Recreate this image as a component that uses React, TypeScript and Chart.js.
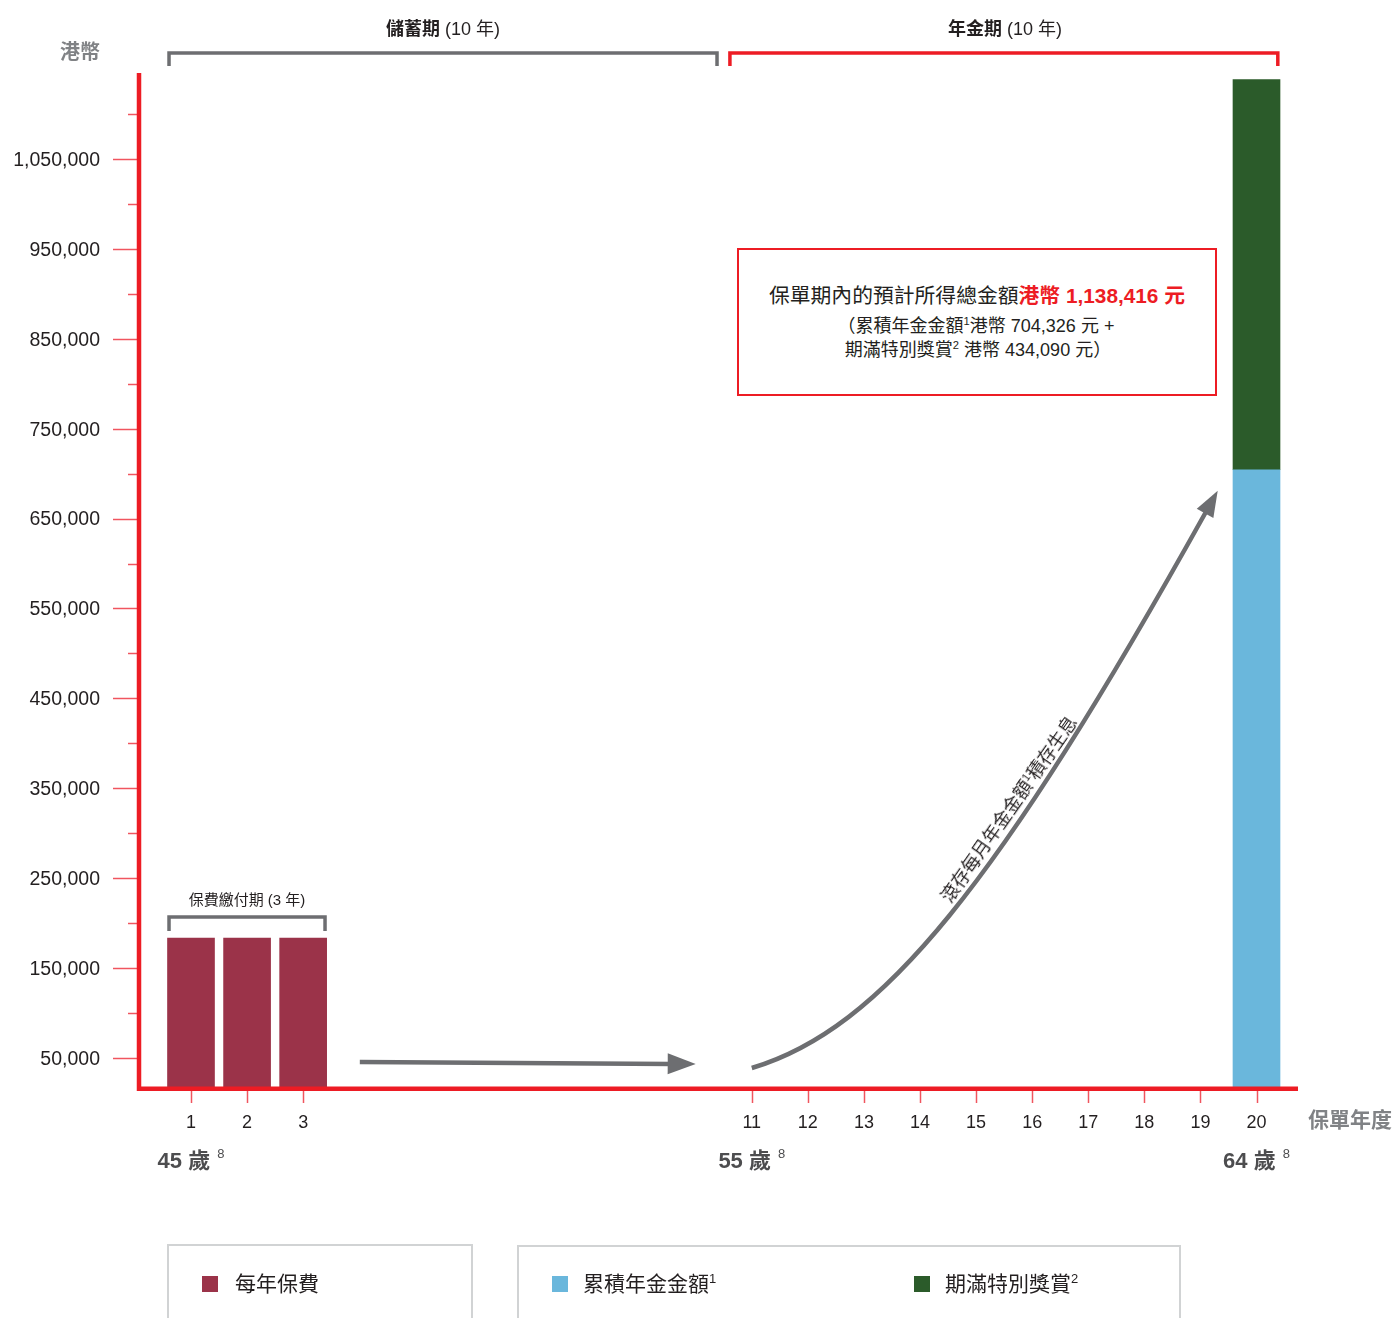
import React, { useEffect, useRef } from 'react';
import { Chart, registerables } from 'chart.js';

Chart.register(...registerables);

// ---------- data ----------
const premiumYears = [1, 2, 3];
const annualPremium = [183500, 183500, 183500];
const maturityYears = [20];
const accumulatedAnnuity = [704326];
const maturityBonus = [434090];
const shownYearTicks = [1, 2, 3, 11, 12, 13, 14, 15, 16, 17, 18, 19, 20];
const yLabelTicks = [50000, 150000, 250000, 350000, 450000, 550000, 650000, 750000, 850000, 950000, 1050000];
const yMinorTicks = [100000, 200000, 300000, 400000, 500000, 600000, 700000, 800000, 900000, 1000000, 1100000];
const ageYears = [1, 11, 20];
const ageTexts = ['45 歲', '55 歲', '64 歲'];
const ageSup = '8';

const FONT = "'Liberation Sans', 'Noto Sans CJK TC', sans-serif";
const RED = '#ed1c24';
const TICK_RED = '#f0555f';
const GRAY = '#6d6e71';
const TITLE_GRAY = '#808285';
const TEXT = '#231f20';

const decorPlugin = {
  id: 'decor',
  afterDraw(chart: any) {
    const { ctx, chartArea: ca, scales } = chart;
    const x = scales.x;
    const y = scales.y;
    const X = (v: number) => x.getPixelForValue(v);
    const line = (x1: number, y1: number, x2: number, y2: number) => {
      ctx.beginPath();
      ctx.moveTo(x1, y1);
      ctx.lineTo(x2, y2);
      ctx.stroke();
    };
    ctx.save();

    // y tick marks
    ctx.strokeStyle = TICK_RED;
    ctx.lineWidth = 1.5;
    yLabelTicks.forEach((v) => {
      const py = Math.round(y.getPixelForValue(v)) + 0.5;
      line(ca.left - 26, py, ca.left, py);
    });
    yMinorTicks.forEach((v) => {
      const py = Math.round(y.getPixelForValue(v)) + 0.5;
      line(ca.left - 11, py, ca.left, py);
    });
    // x tick marks
    shownYearTicks.forEach((v) => {
      const px = Math.round(X(v)) + 0.5;
      line(px, ca.bottom + 3, px, ca.bottom + 16);
    });

    // axes
    ctx.strokeStyle = RED;
    ctx.lineWidth = 4.5;
    ctx.lineCap = 'butt';
    line(ca.left, ca.top, ca.left, ca.bottom + 4);
    line(ca.left - 2, ca.bottom + 1.8, ca.right, ca.bottom + 1.8);

    // brackets
    const bracket = (v1: number, v2: number, top: number, leg: number, color: string) => {
      ctx.strokeStyle = color;
      ctx.lineWidth = 3.5;
      ctx.lineJoin = 'miter';
      ctx.beginPath();
      ctx.moveTo(X(v1), top + leg);
      ctx.lineTo(X(v1), top);
      ctx.lineTo(X(v2), top);
      ctx.lineTo(X(v2), top + leg);
      ctx.stroke();
    };
    bracket(0.608, 10.38, ca.top - 20, 13, GRAY);
    bracket(10.61, 20.38, ca.top - 20, 13, RED);
    const premTop = y.getPixelForValue(annualPremium[0]);
    bracket(0.608, 3.39, premTop - 21, 14, GRAY);

    // straight arrow
    ctx.strokeStyle = GRAY;
    ctx.fillStyle = GRAY;
    ctx.lineWidth = 4.5;
    const head = (tx: number, ty: number, dx: number, dy: number, len: number, half: number) => {
      const n = Math.hypot(dx, dy);
      const ux = dx / n, uy = dy / n;
      const bx = tx - ux * len, by = ty - uy * len;
      ctx.beginPath();
      ctx.moveTo(tx, ty);
      ctx.lineTo(bx - uy * half, by + ux * half);
      ctx.lineTo(bx + uy * half, by - ux * half);
      ctx.closePath();
      ctx.fill();
    };
    const ax1 = X(4.01), ay1 = ca.bottom - 25;
    const ax2 = X(10.0), ay2 = ca.bottom - 23;
    line(ax1, ay1, ax2 - 24, ay2 - 0.1);
    head(ax2, ay2, ax2 - ax1, ay2 - ay1, 28, 10.5);

    // curved arrow
    const p0 = [X(11.0), ca.bottom - 19];
    const p1 = [882, 1029];
    const p2 = [998, 885];
    const p3 = [1207, 510];
    ctx.lineWidth = 4.5;
    ctx.beginPath();
    ctx.moveTo(p0[0], p0[1]);
    ctx.bezierCurveTo(p1[0], p1[1], p2[0], p2[1], p3[0], p3[1]);
    ctx.stroke();
    const dx = p3[0] - p2[0], dy = p3[1] - p2[1];
    const n = Math.hypot(dx, dy);
    head(p3[0] + (dx / n) * 22, p3[1] + (dy / n) * 22, dx, dy, 26, 9.5);

    // age labels
    ctx.fillStyle = '#4d4d4f';
    ctx.textBaseline = 'middle';
    ageYears.forEach((v, i) => {
      ctx.font = `bold 22px ${FONT}`;
      const w1 = ctx.measureText(ageTexts[i]).width;
      ctx.font = `13px ${FONT}`;
      const w2 = ctx.measureText(ageSup).width;
      const total = w1 + 7 + w2;
      const sx = X(v) - total / 2;
      ctx.font = `bold 22px ${FONT}`;
      ctx.textAlign = 'left';
      ctx.fillText(ageTexts[i], sx, ca.bottom + 75);
      ctx.font = `13px ${FONT}`;
      ctx.fillText(ageSup, sx + w1 + 7, ca.bottom + 67);
    });

    ctx.restore();
  },
};

const sup = (t: string) => (
  <sup style={{ fontSize: '0.62em', verticalAlign: 'super', lineHeight: 0 }}>{t}</sup>
);

export default function App() {
  const ref = useRef<HTMLCanvasElement>(null);

  useEffect(() => {
    const canvas = ref.current as HTMLCanvasElement;
    const chart = new Chart(canvas, {
      type: 'bar',
      data: {
        datasets: [
          {
            label: '每年保費',
            data: premiumYears.map((yr, i) => ({ x: yr, y: annualPremium[i] })),
            backgroundColor: '#9b3349',
            barThickness: 47,
            stack: 's',
          },
          {
            label: '累積年金金額',
            data: maturityYears.map((yr, i) => ({ x: yr, y: accumulatedAnnuity[i] })),
            backgroundColor: '#6ab7dc',
            barThickness: 47,
            stack: 's',
          },
          {
            label: '期滿特別獎賞',
            data: maturityYears.map((yr, i) => ({ x: yr, y: maturityBonus[i] })),
            backgroundColor: '#2b5b2a',
            barThickness: 47,
            stack: 's',
          },
        ],
      } as any,
      options: {
        animation: false,
        responsive: false,
        layout: { padding: { top: 73, right: 97, left: 0, bottom: 0 } },
        plugins: { legend: { display: false }, tooltip: { enabled: false } },
        scales: {
          x: {
            type: 'linear',
            min: 0.0727,
            max: 20.74,
            offset: false,
            stacked: true,
            grid: { display: false, drawTicks: false, offset: false },
            border: { display: false },
            afterBuildTicks: (s: any) => {
              s.ticks = shownYearTicks.map((v) => ({ value: v }));
            },
            ticks: {
              autoSkip: false,
              maxRotation: 0,
              padding: 25,
              color: TEXT,
              font: { family: FONT, size: 18 },
              callback: (v: any) => String(v),
            },
            afterFit: (s: any) => {
              s.height = 231;
            },
          },
          y: {
            type: 'linear',
            min: 17750,
            max: 1145650,
            stacked: true,
            grid: { display: false, drawTicks: false },
            border: { display: false },
            afterBuildTicks: (s: any) => {
              s.ticks = yLabelTicks.map((v) => ({ value: v }));
            },
            ticks: {
              autoSkip: false,
              padding: 39,
              labelOffset: 1.5,
              color: TEXT,
              font: { family: FONT, size: 19.5 },
              callback: (v: any) => Number(v).toLocaleString('en-US'),
            },
            afterFit: (s: any) => {
              s.width = 139;
            },
          },
        },
      } as any,
      plugins: [decorPlugin],
    });
    return () => chart.destroy();
  }, []);

  const center: React.CSSProperties = {
    position: 'absolute',
    transform: 'translate(-50%, -50%)',
    whiteSpace: 'nowrap',
    lineHeight: 1.2,
  };
  const legendText: React.CSSProperties = {
    position: 'absolute',
    top: 1284,
    transform: 'translateY(-50%)',
    fontSize: 21,
    whiteSpace: 'nowrap',
    lineHeight: 1.2,
  };

  return (
    <div
      style={{
        position: 'absolute',
        left: 0,
        top: 0,
        width: 1395,
        height: 1318,
        overflow: 'hidden',
        background: '#fff',
        fontFamily: FONT,
        color: TEXT,
      }}
    >
      <canvas
        ref={ref}
        width={1395}
        height={1318}
        style={{ position: 'absolute', left: 0, top: 0, width: 1395, height: 1318 }}
      />

      {/* period labels */}
      <div style={{ ...center, left: 443, top: 30, fontSize: 18 }}>
        <b>儲蓄期</b> (10 年)
      </div>
      <div style={{ ...center, left: 1005, top: 30, fontSize: 18 }}>
        <b>年金期</b> (10 年)
      </div>

      {/* axis titles */}
      <div style={{ ...center, left: 80, top: 52, fontSize: 20, fontWeight: 'bold', color: TITLE_GRAY }}>港幣</div>
      <div
        style={{
          position: 'absolute',
          left: 1308,
          top: 1120,
          transform: 'translateY(-50%)',
          fontSize: 21,
          fontWeight: 'bold',
          color: TITLE_GRAY,
          whiteSpace: 'nowrap',
          lineHeight: 1.2,
        }}
      >
        保單年度
      </div>

      {/* premium period label */}
      <div style={{ ...center, left: 247, top: 900, fontSize: 15 }}>保費繳付期 (3 年)</div>

      {/* total box */}
      <div
        style={{
          position: 'absolute',
          left: 737,
          top: 248,
          width: 480,
          height: 148,
          boxSizing: 'border-box',
          border: `2.5px solid ${RED}`,
          background: '#fff',
        }}
      />
      <div style={{ ...center, left: 977, top: 296, fontSize: 20.8 }}>
        保單期內的預計所得總金額
        <span style={{ color: RED, fontWeight: 'bold' }}>港幣 1,138,416 元</span>
      </div>
      <div style={{ ...center, left: 976, top: 327, fontSize: 18 }}>
        （累積年金金額{sup('1')}港幣 704,326 元 +
      </div>
      <div style={{ ...center, left: 978, top: 351, fontSize: 18 }}>
        期滿特別獎賞{sup('2')} 港幣 434,090 元）
      </div>

      {/* curve label */}
      <div style={{ ...center, left: 1010, top: 810, fontSize: 18, transform: 'translate(-50%, -50%) rotate(-55deg)' }}>
        滾存每月年金金額{sup('1')}積存生息
      </div>

      {/* legend */}
      <div
        style={{
          position: 'absolute',
          left: 167,
          top: 1244,
          width: 306,
          height: 120,
          boxSizing: 'border-box',
          border: '2.5px solid #d1d3d4',
        }}
      />
      <div
        style={{
          position: 'absolute',
          left: 517,
          top: 1245,
          width: 664,
          height: 120,
          boxSizing: 'border-box',
          border: '2.5px solid #d1d3d4',
        }}
      />
      <div style={{ position: 'absolute', left: 202, top: 1276, width: 16, height: 16, background: '#9b3349' }} />
      <div style={{ ...legendText, left: 235 }}>每年保費</div>
      <div style={{ position: 'absolute', left: 552, top: 1276, width: 16, height: 16, background: '#6ab7dc' }} />
      <div style={{ ...legendText, left: 583 }}>累積年金金額{sup('1')}</div>
      <div style={{ position: 'absolute', left: 914, top: 1276, width: 16, height: 16, background: '#2b5b2a' }} />
      <div style={{ ...legendText, left: 945 }}>期滿特別獎賞{sup('2')}</div>
    </div>
  );
}
